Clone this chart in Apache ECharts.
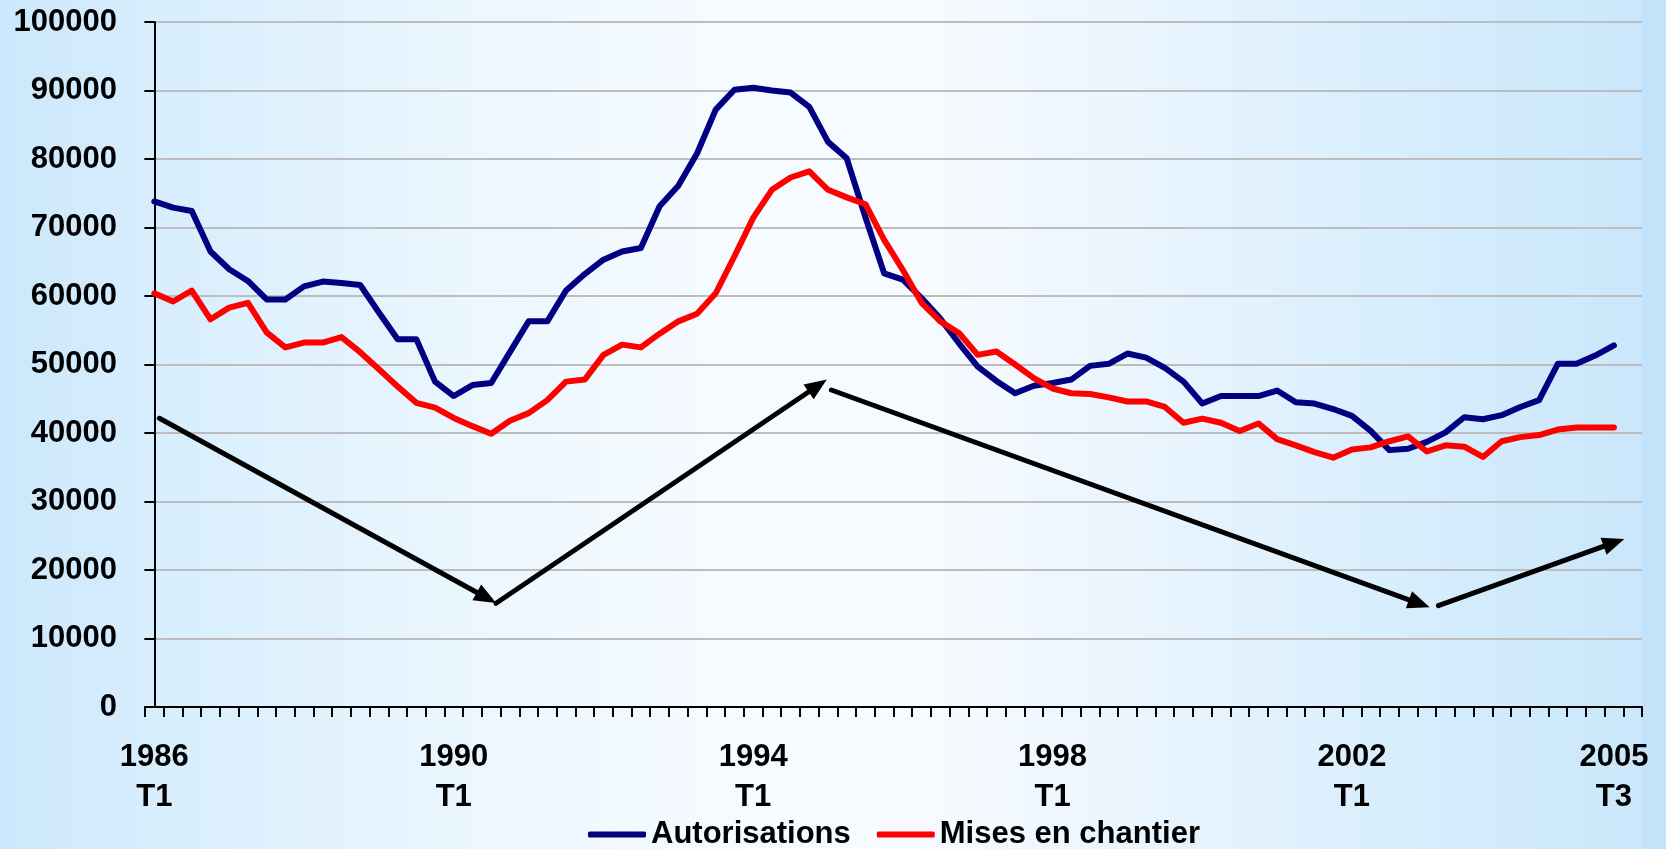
<!DOCTYPE html>
<html>
<head>
<meta charset="utf-8">
<title>Autorisations et mises en chantier</title>
<script src="https://cdn.jsdelivr.net/npm/echarts@6/dist/echarts.min.js"></script>
<style>
  html, body { margin: 0; padding: 0; }
  #chart {
    width: 1666px;
    height: 849px;
    background: linear-gradient(to right, #cce8fc 0%, #daeffd 12%, #edf7fe 30%, #f6fbff 45%, #f7fbff 55%, #e8f4fe 70%, #d5edfc 86%, #cae7fb 98.5%, #c3e3fa 98.6%, #c3e3fa 100%);
  }
</style>
</head>
<body>
<div id="chart"></div>
<script>
// quarters 1986 T1 .. 2005 T4 (last one has no data yet)
const categories = []
for (let y = 1986; y <= 2005; y++) {
  for (let q = 1; q <= 4; q++) categories.push(y + '\nT' + q)
}
const shownLabels = ['1986\nT1', '1990\nT1', '1994\nT1', '1998\nT1', '2002\nT1', '2005\nT3']

const autorisations = [
  73800, 72900, 72400, 66500, 63900, 62200, 59500, 59500, 61400, 62100,
  61900, 61600, 57600, 53700, 53700, 47500, 45400, 47000, 47300, 51800,
  56300, 56300, 60800, 63200, 65300, 66500, 67000, 73100, 76100, 80800,
  87200, 90100, 90400, 90000, 89700, 87600, 82500, 80100, 71500, 63300,
  62400, 59700, 56700, 53100, 49700, 47600, 45800, 46900, 47300, 47800,
  49800, 50100, 51600, 51000, 49500, 47500, 44300, 45400, 45400, 45400,
  46200, 44500, 44300, 43500, 42500, 40300, 37500, 37700, 38700, 40100,
  42300, 42000, 42600, 43800, 44800, 50100, 50100, 51300, 52800
]
const misesEnChantier = [
  60400, 59200, 60800, 56600, 58300, 59000, 54700, 52500, 53200, 53200,
  54000, 51800, 49300, 46800, 44400, 43700, 42200, 41000, 39900, 41800,
  42900, 44800, 47500, 47800, 51400, 52900, 52500, 54500, 56300, 57400,
  60400, 65800, 71400, 75500, 77300, 78200, 75500, 74400, 73400, 68200,
  63800, 59000, 56300, 54600, 51400, 51900, 50000, 48000, 46500, 45800,
  45700, 45200, 44600, 44600, 43800, 41500, 42100, 41500, 40300, 41400,
  39100, 38200, 37200, 36400, 37600, 37900, 38800, 39500, 37300, 38200,
  38000, 36500, 38800, 39400, 39700, 40500, 40800, 40800, 40800
]

// trend arrows, [quarter index, value]
const arrowFrom = [[0.27, 42150], [18.26, 15140], [36.18, 46280], [68.62, 14790]]
const arrowTo = [[17.75, 15950], [35.45, 46900], [67.6, 15100], [78.0, 24000]]

const font = "'Liberation Sans', Arial, sans-serif"

const chart = echarts.init(document.getElementById('chart'))
chart.setOption({
  backgroundColor: 'transparent',
  animation: false,
  grid: { left: 145, right: 24, top: 22, bottom: 142 },
  legend: {
    data: ['Autorisations', 'Mises en chantier'],
    left: 588,
    top: 819,
    padding: 0,
    itemGap: 26,
    itemWidth: 58,
    itemHeight: 6,
    icon: 'roundRect',
    textStyle: { fontFamily: font, fontSize: 31, fontWeight: 'bold', color: '#000' }
  },
  xAxis: [{
    type: 'category',
    data: categories,
    boundaryGap: true,
    axisLine: { lineStyle: { color: '#000', width: 2 } },
    axisTick: { show: true, interval: 0, length: 10, lineStyle: { color: '#000', width: 2 } },
    axisLabel: {
      interval: 0,
      margin: 30,
      fontFamily: font,
      fontSize: 31,
      fontWeight: 'bold',
      color: '#000',
      lineHeight: 40,
      formatter: v => shownLabels.includes(v) ? v : ''
    },
    splitLine: { show: false }
  }, {
    type: 'value',
    min: -0.5,
    max: categories.length - 0.5,
    show: false
  }],
  yAxis: {
    type: 'value',
    min: 0,
    max: 100000,
    interval: 10000,
    axisLine: { show: true, lineStyle: { color: '#000', width: 2 } },
    axisTick: { show: true, length: 10, lineStyle: { color: '#000', width: 2 } },
    axisLabel: {
      margin: 28,
      fontFamily: font,
      fontSize: 31,
      fontWeight: 'bold',
      color: '#000',
      formatter: v => String(v)
    },
    splitLine: { lineStyle: { color: '#bdbdbd', width: 2 } }
  },
  series: [{
    name: 'Autorisations',
    type: 'line',
    data: autorisations,
    symbol: 'none',
    color: '#000080',
    lineStyle: { color: '#000080', width: 6, cap: 'round', join: 'round' }
  }, {
    name: 'Mises en chantier',
    type: 'line',
    data: misesEnChantier,
    symbol: 'none',
    color: '#ff0000',
    lineStyle: { color: '#ff0000', width: 6, cap: 'round', join: 'round' }
  }, {
    name: 'tendances',
    type: 'line',
    xAxisIndex: 1,
    data: [],
    silent: true,
    markLine: {
      silent: true,
      symbol: ['none', 'triangle'],
      symbolSize: [18, 22],
      label: { show: false },
      lineStyle: { color: '#000', width: 5, type: 'solid', cap: 'round' },
      emphasis: { disabled: true },
      data: arrowFrom.map((p, i) => [{ coord: p }, { coord: arrowTo[i] }])
    }
  }]
})
</script>
</body>
</html>
